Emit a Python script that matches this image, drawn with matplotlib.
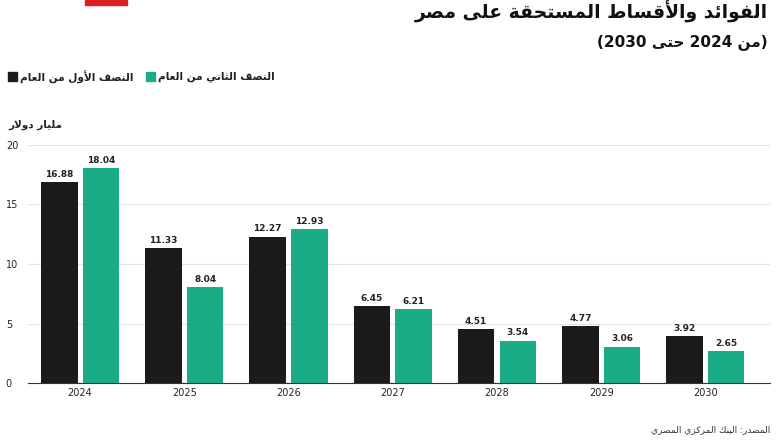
import re
import matplotlib
matplotlib.use("Agg")
import matplotlib.pyplot as plt
from matplotlib.patches import Rectangle

years = ["2024", "2025", "2026", "2027", "2028", "2029", "2030"]
first_half = [16.88, 11.33, 12.27, 6.45, 4.51, 4.77, 3.92]
second_half = [18.04, 8.04, 12.93, 6.21, 3.54, 3.06, 2.65]
yticks = [0, 5, 10, 15, 20]
title1 = "الفوائد والأقساط المستحقة على مصر"
title2 = "(من 2024 حتى 2030)"
lab1 = "النصف الأول من العام"
lab2 = "النصف الثاني من العام"
unit = "مليار دولار"
source = "المصدر: البنك المركزي المصري"

FORMS = {
 'ا': (0xFE8D, 0xFE8E, None, None), 'أ': (0xFE83, 0xFE84, None, None),
 'ب': (0xFE8F, 0xFE90, 0xFE91, 0xFE92), 'ة': (0xFE93, 0xFE94, None, None),
 'ت': (0xFE95, 0xFE96, 0xFE97, 0xFE98), 'ث': (0xFE99, 0xFE9A, 0xFE9B, 0xFE9C),
 'ح': (0xFEA1, 0xFEA2, 0xFEA3, 0xFEA4), 'د': (0xFEA9, 0xFEAA, None, None),
 'ر': (0xFEAD, 0xFEAE, None, None), 'ز': (0xFEAF, 0xFEB0, None, None),
 'س': (0xFEB1, 0xFEB2, 0xFEB3, 0xFEB4), 'ص': (0xFEB9, 0xFEBA, 0xFEBB, 0xFEBC),
 'ط': (0xFEC1, 0xFEC2, 0xFEC3, 0xFEC4), 'ع': (0xFEC9, 0xFECA, 0xFECB, 0xFECC),
 'ف': (0xFED1, 0xFED2, 0xFED3, 0xFED4), 'ق': (0xFED5, 0xFED6, 0xFED7, 0xFED8),
 'ك': (0xFED9, 0xFEDA, 0xFEDB, 0xFEDC), 'ل': (0xFEDD, 0xFEDE, 0xFEDF, 0xFEE0),
 'م': (0xFEE1, 0xFEE2, 0xFEE3, 0xFEE4), 'ن': (0xFEE5, 0xFEE6, 0xFEE7, 0xFEE8),
 'و': (0xFEED, 0xFEEE, None, None), 'ى': (0xFEEF, 0xFEF0, 0xFBE8, 0xFBE9),
 'ي': (0xFEF1, 0xFEF2, 0xFEF3, 0xFEF4), 'ئ': (0xFE89, 0xFE8A, 0xFE8B, 0xFE8C),
}
LAMALEF = {'ا': (0xFEFB, 0xFEFC), 'أ': (0xFEF7, 0xFEF8)}

def dual(c):
    return c in FORMS and FORMS[c][2] is not None

def shape(s):
    out = []
    i = 0
    n = len(s)
    while i < n:
        c = s[i]
        if c not in FORMS:
            out.append(c); i += 1; continue
        cp = i > 0 and dual(s[i-1])
        if c == 'ل' and i + 1 < n and s[i+1] in LAMALEF:
            iso, fin = LAMALEF[s[i+1]]
            out.append(chr(fin if cp else iso)); i += 2; continue
        cn = dual(c) and i + 1 < n and s[i+1] in FORMS
        f = FORMS[c]
        if cp and cn: code = f[3]
        elif cp: code = f[1]
        elif cn: code = f[2]
        else: code = f[0]
        out.append(chr(code)); i += 1
    return ''.join(out)

def ar(s):
    sh = shape(s)
    units = re.findall(r'[0-9.]+|[^0-9.]+', sh)
    mirror = {'(': ')', ')': '('}
    res = []
    for u in reversed(units):
        if re.fullmatch(r'[0-9.]+', u):
            res.append(u)
        else:
            res.append(''.join(mirror.get(ch, ch) for ch in reversed(u)))
    return ''.join(res)

plt.rcParams['font.family'] = ['DejaVu Sans']
BLACK = '#1b1b1b'
GREEN = '#1aad85'

fig = plt.figure(figsize=(7.77, 4.44), dpi=100)
ax = fig.add_axes([28/777, 1-383/444, 742/777, 238/444])
x = list(range(len(years)))
w = 0.35
b1 = ax.bar([i - 0.2 for i in x], first_half, w, color=BLACK, zorder=3)
b2 = ax.bar([i + 0.2 for i in x], second_half, w, color=GREEN, zorder=3)
for bars, vals in ((b1, first_half), (b2, second_half)):
    for r, v in zip(bars, vals):
        ax.text(r.get_x() + r.get_width()/2, v + 0.3, f"{v:.2f}", ha='center', va='bottom',
                fontsize=6.5, fontweight='bold', color='#222')
ax.set_xlim(-0.5, 6.62)
ax.set_ylim(0, 20)
ax.set_yticks(yticks)
ax.set_xticks(x)
ax.set_xticklabels(years)
ax.tick_params(axis='both', length=0, labelsize=7, colors='#222')
for lbl in ax.get_yticklabels():
    lbl.set_horizontalalignment('left')
ax.grid(axis='y', color='#e3e3e3', lw=0.8, zorder=0)
for s in ['top', 'right', 'left']:
    ax.spines[s].set_visible(False)
ax.spines['bottom'].set_color('#333')
ax.spines['bottom'].set_linewidth(0.8)
ax.yaxis.set_tick_params(pad=16)

fig.text(768/777, 1-12/444, ar(title1), ha='right', va='center', fontsize=13.5, fontweight='bold', color='#111')
fig.text(768/777, 1-42/444, ar(title2), ha='right', va='center', fontsize=11, fontweight='bold', color='#111')
fig.patches.append(Rectangle((85/777, 1-5/444), 42/777, 5/444, transform=fig.transFigure, color='#d9201f'))

ly = 1-77/444
fig.patches.append(Rectangle((8/777, ly-4.5/444), 9/777, 9/444, transform=fig.transFigure, color=BLACK))
fig.text(20/777, ly, ar(lab1), ha='left', va='center', fontsize=7.6, fontweight='bold', color='#222')
fig.patches.append(Rectangle((146/777, ly-4.5/444), 9/777, 9/444, transform=fig.transFigure, color=GREEN))
fig.text(158/777, ly, ar(lab2), ha='left', va='center', fontsize=7.6, fontweight='bold', color='#222')

fig.text(8/777, 1-125/444, ar(unit), ha='left', va='center', fontsize=7.5, fontweight='bold', color='#222')
fig.text(770/777, 1-430/444, ar(source), ha='right', va='center', fontsize=6.5, color='#333')

fig.savefig('out.png', dpi=100)
